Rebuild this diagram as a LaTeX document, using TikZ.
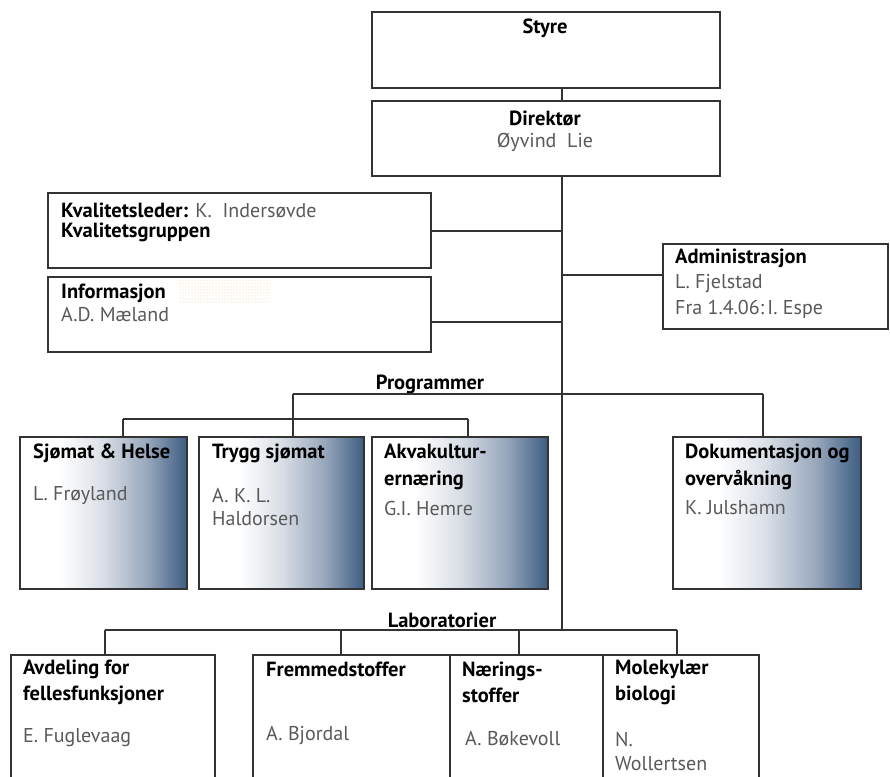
\documentclass[tikz,border=0pt]{standalone}
\usepackage{fontspec}
\setmainfont{PT Sans}
\usetikzlibrary{patterns}
\definecolor{linecol}{HTML}{333333}
\definecolor{namecol}{HTML}{595959}
\definecolor{proglight}{HTML}{D9DEE6}
\definecolor{progmid}{HTML}{98A7BC}
\definecolor{progdark}{HTML}{3D5D82}
\pgfdeclarehorizontalshading{progshade}{100bp}{color(0bp)=(white); color(25bp)=(white); color(37bp)=(white); color(50bp)=(proglight); color(63bp)=(progmid); color(75bp)=(progdark); color(100bp)=(progdark)}

\begin{document}
\begin{tikzpicture}[x=1pt,y=-1pt,
    box/.style={draw=linecol,line width=2pt,fill=white,anchor=north west,inner sep=0pt},
    prog/.style={draw=linecol,line width=2pt,shading=progshade,anchor=north west,inner sep=0pt},
    con/.style={draw=linecol,line width=2pt},
    head/.style={anchor=west,inner sep=0pt,align=left,font=\fontsize{20.5}{27}\selectfont\bfseries},
    who/.style={anchor=west,inner sep=0pt,align=left,text=namecol,font=\fontsize{20}{24}\selectfont}]
  \useasboundingbox (0,0) rectangle (890,776);
  \clip (0,0) rectangle (890,776);

  % top
  \node[box,minimum width=348,minimum height=76] (styre) at (371,11) {};
  \node[box,minimum width=348,minimum height=75] (dir) at (371,100) {};
  \node[head,anchor=center] (styreT) at (545,28) {Styre};
  \node[head,anchor=center] (dirT) at (545,118) {Direktør};
  \node[who,anchor=center] (dirN) at (545,142) {Øyvind~~Lie};

  % staff
  \node[box,minimum width=383,minimum height=75] (kval) at (47,192) {};
  \node[box,minimum width=383,minimum height=75] (info) at (47,276) {};
  \node[box,minimum width=225,minimum height=85] (admin) at (662,243) {};
  \node[head,font=\fontsize{20.5}{20}\selectfont] (kvalT) at (61,222.5)
    {\textbf{Kvalitetsleder:} {\mdseries\fontsize{20}{20}\selectfont\color{namecol}K.~~Indersøvde}\\\textbf{Kvalitetsgruppen}};
  \fill[pattern=dots,pattern color=orange!45] (178,280) rectangle (270,303);
  \node[head] (infoT) at (61,293) {Informasjon};
  \node[who] (infoN) at (61,315) {A.D. Mæland};
  \node[head] (adminT) at (675,258) {Administrasjon};
  \node[who,font=\fontsize{20}{26}\selectfont] (adminN) at (675,296) {L. Fjelstad\\Fra 1.4.06:\,I. Espe};

  % programmer
  \node[head,anchor=center] (progT) at (430,384) {Programmer};
  \node[prog,minimum width=167,minimum height=152] (sj) at (19,436) {};
  \node[prog,minimum width=165,minimum height=152] (tr) at (198,436) {};
  \node[prog,minimum width=176,minimum height=152] (ak) at (371,436) {};
  \node[prog,minimum width=188,minimum height=152] (dk) at (672,436) {};
  \node[head] (sjT) at (33,453) {Sjømat \& Helse};
  \node[who] (sjN) at (33,496) {L. Frøyland};
  \node[head] (trT) at (212,453) {Trygg sjømat};
  \node[who,font=\fontsize{20}{23}\selectfont] (trN) at (212,507.5) {A. K. L.\\Haldorsen};
  \node[head] (akT) at (384,466.5) {Akvakultur-\\ernæring};
  \node[who] (akN) at (384,508) {G.I. Hemre};
  \node[head] (dkT) at (685,466.5) {Dokumentasjon og\\overvåkning};
  \node[who] (dkN) at (685,508) {K. Julshamn};

  % laboratorier
  \node[head,anchor=center] (labT) at (442,620) {Laboratorier};
  \node[box,minimum width=204,minimum height=140] (avd) at (10,654) {};
  \node[box,minimum width=197,minimum height=140] (frem) at (252,654) {};
  \node[box,minimum width=153,minimum height=140] (naer) at (449,654) {};
  \node[box,minimum width=156,minimum height=140] (mol) at (602,654) {};
  \node[head,font=\fontsize{20.5}{26}\selectfont\bfseries] (avdT) at (23,682) {Avdeling for\\fellesfunksjoner};
  \node[who] (avdN) at (23,738) {E. Fuglevaag};
  \node[head] (fremT) at (266,669) {Fremmedstoffer};
  \node[who] (fremN) at (266,735) {A. Bjordal};
  \node[head,font=\fontsize{20.5}{26}\selectfont\bfseries] (naerT) at (462,682) {Nærings-\\stoffer};
  \node[who] (naerN) at (465,739) {A. Bøkevoll};
  \node[head,font=\fontsize{20.5}{26}\selectfont\bfseries] (molT) at (615,682) {Molekylær\\biologi};
  \node[who] (molN) at (615,751) {N.\\Wollertsen};

  % connectors
  \coordinate (sp) at (562,630);
  \coordinate (pl) at (293,394); \coordinate (pr) at (763,394);
  \coordinate (sl) at (123,419); \coordinate (sr) at (468,419);
  \coordinate (ll) at (105,630); \coordinate (lr) at (677,630);
  \coordinate (l2) at (341,630); \coordinate (l3) at (519,630);
  \draw[con] (styre.south -| sp) -- (dir.north -| sp);
  \draw[con] (dir.south -| sp) -- (sp);
  \draw[con] (kval.east) -- (kval.east -| sp);
  \draw[con] ([yshift=-7pt]info.east) -- ([yshift=-7pt]info.east -| sp);
  \draw[con] ([yshift=11.5pt]admin.west) -- ([yshift=11.5pt]admin.west -| sp);
  \draw[con] (pl) -- (pr);
  \draw[con] (pl) -- (pl |- tr.north);
  \draw[con] (pr) -- (pr |- dk.north);
  \draw[con] (sl) -- (sr);
  \draw[con] (sl) -- (sl |- sj.north);
  \draw[con] (sr) -- (sr |- ak.north);
  \draw[con] (ll) -- (lr);
  \draw[con] (ll) -- (ll |- avd.north);
  \draw[con] (l2) -- (l2 |- frem.north);
  \draw[con] (l3) -- (l3 |- naer.north);
  \draw[con] (lr) -- (lr |- mol.north);
\end{tikzpicture}
\end{document}
